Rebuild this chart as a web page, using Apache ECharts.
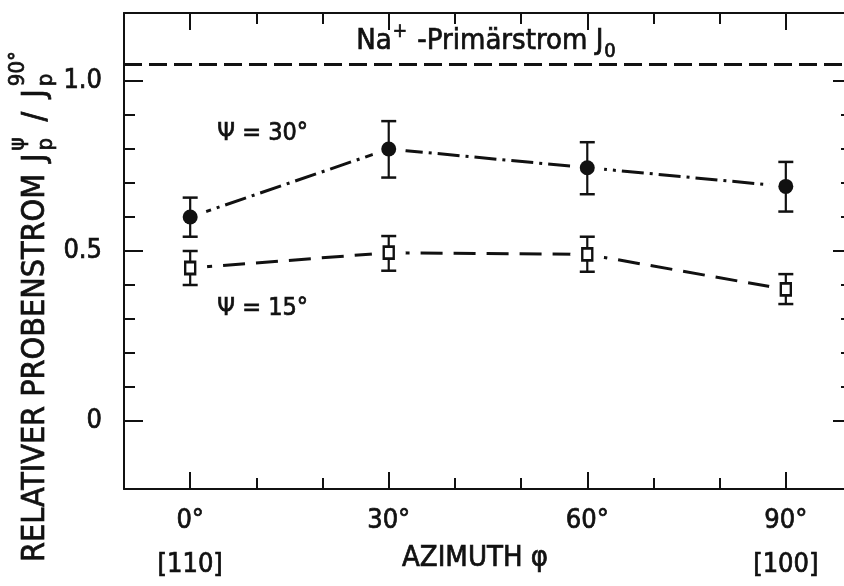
<!DOCTYPE html>
<html><head><meta charset="utf-8">
<script src="https://cdn.jsdelivr.net/npm/echarts@6/dist/echarts.min.js"></script>
<style>html,body{margin:0;padding:0;background:#fff}#c{width:844px;height:586px}</style>
</head><body><div id="c"></div>
<script>
// ---- data ----
const azimuth = [0, 30, 60, 90];
const psi30 = [0.60, 0.80, 0.745, 0.69];
const psi30Hi = [0.657, 0.882, 0.82, 0.762];
const psi30Lo = [0.542, 0.716, 0.667, 0.616];
const psi15 = [0.45, 0.495, 0.49, 0.387];
const psi15Hi = [0.50, 0.544, 0.542, 0.432];
const psi15Lo = [0.40, 0.442, 0.439, 0.344];
const primaryLevel = 1.05;
const xMajorTicks = [0, 30, 60, 90];
const xMinorTicks = [10, 20, 40, 50, 70, 80];
const xTickLabels = ['0°', '30°', '60°', '90°'];
const xDirTicks = [0, 90];
const xDirLabels = ['[110]', '[100]'];
const yMajorTicks = [0, 0.5, 1.0];
const yMinorTicks = [0.1, 0.2, 0.3, 0.4, 0.6, 0.7, 0.8, 0.9];
const yTickLabels = ['0', '0.5', '1.0'];
const annotations = [
  {text: 'Ψ = 30°', x: 4.1, y: 0.845},
  {text: 'Ψ = 15°', x: 4.1, y: 0.332}
];
const primaryLabelPos = {x: 44.7, y: 1.116};

// ---- styling ----
const FONT = "'DejaVu Sans Condensed','Liberation Sans Narrow','DejaVu Sans',sans-serif";
const INK = '#111';
const HEAVY = 0.7;
const X_MIN = -10, X_MAX = 100, Y_MIN = -0.2, Y_MAX = 1.2;

const chart = echarts.init(document.getElementById('c'), null, {renderer: 'canvas'});
const ctx = document.createElement('canvas').getContext('2d');
function measure(t, size) { ctx.font = size + 'px ' + FONT; return ctx.measureText(t).width; }
function txt(t, x, y, size) {
  return {type: 'text', x: x, y: y, style: {text: t, font: size + 'px ' + FONT, fill: INK,
    stroke: INK, lineWidth: HEAVY,
    align: 'left', verticalAlign: 'middle', textAlign: 'left', textVerticalAlign: 'middle'}};
}
function layout(list) {
  let x = 0; const kids = [];
  for (const p of list) {
    if (p.stack) {
      let w = 0;
      p.stack.forEach(s => { kids.push(txt(s.t, x + (p.dx || 0), s.dy, s.size)); w = Math.max(w, measure(s.t, s.size)); });
      x += w + (p.dx || 0);
    } else {
      kids.push(txt(p.t, x + (p.dx || 0), p.dy || 0, p.size));
      x += measure(p.t, p.size) + (p.dx || 0);
    }
  }
  return {kids, width: x};
}

const axisLineStyle = {color: INK, width: 2};
const labelStyle = (size) => ({fontSize: size, fontFamily: FONT, color: INK, textBorderColor: INK, textBorderWidth: HEAVY});
function xAx(extra) {
  return Object.assign({type: 'value', min: X_MIN, max: X_MAX, splitLine: {show: false},
    axisLine: {show: false, onZero: false, lineStyle: axisLineStyle}, axisTick: {show: false}, axisLabel: {show: false}}, extra);
}
function yAx(extra) {
  return Object.assign({type: 'value', min: Y_MIN, max: Y_MAX, splitLine: {show: false},
    axisLine: {show: false, onZero: false, lineStyle: axisLineStyle}, axisTick: {show: false}, axisLabel: {show: false}}, extra);
}
const shownLine = {show: true, onZero: false, lineStyle: axisLineStyle};
const majTick = (vals, len) => ({show: true, inside: true, length: len, customValues: vals, lineStyle: {color: INK, width: 2}});

const pts30 = azimuth.map((x, i) => [x, psi30[i]]);
const pts15 = azimuth.map((x, i) => [x, psi15[i]]);
const errData = azimuth.map((x, i) => [x, psi30Lo[i], psi30Hi[i]]).concat(azimuth.map((x, i) => [x, psi15Lo[i], psi15Hi[i]]));

const option = {
  animation: false,
  backgroundColor: '#fff',
  grid: {left: 124, right: -8, top: 13, bottom: 97, outerBoundsMode: 'none', containLabel: false},
  xAxis: [
    xAx({position: 'bottom', axisLine: shownLine, axisTick: majTick(xMajorTicks, 17),
      axisLabel: Object.assign({show: true, customValues: xMajorTicks, margin: 18,
        formatter: v => xTickLabels[xMajorTicks.indexOf(v)]}, labelStyle(27)),
      name: 'AZIMUTH φ', nameLocation: 'middle', nameGap: 55,
      nameTextStyle: Object.assign({padding: [0, 26, 0, 0]}, labelStyle(29))}),
    xAx({position: 'bottom', axisTick: majTick(xMinorTicks, 11)}),
    xAx({position: 'top', axisLine: shownLine, axisTick: majTick(xMajorTicks, 17)}),
    xAx({position: 'top', axisTick: majTick(xMinorTicks, 11)}),
    xAx({position: 'bottom', axisLabel: Object.assign({show: true, customValues: xDirTicks, margin: 62,
      formatter: v => xDirLabels[xDirTicks.indexOf(v)]}, labelStyle(27))})
  ],
  yAxis: [
    yAx({position: 'left', axisLine: shownLine, axisTick: majTick(yMajorTicks, 19),
      axisLabel: Object.assign({show: true, customValues: yMajorTicks, margin: 22,
        formatter: v => yTickLabels[yMajorTicks.indexOf(v)]}, labelStyle(27))}),
    yAx({position: 'left', axisTick: majTick(yMinorTicks, 11)}),
    yAx({position: 'right', axisLine: shownLine, axisTick: majTick(yMajorTicks, 19)}),
    yAx({position: 'right', axisTick: majTick(yMinorTicks, 11)})
  ],
  series: [
    {type: 'line', name: 'psi30', data: pts30, symbol: 'none', z: 2,
      lineStyle: {color: INK, width: 3, type: [22, 6, 3, 6]},
      markLine: {silent: true, symbol: 'none', label: {show: false},
        lineStyle: {color: INK, width: 3, type: [18, 7]}, data: [{yAxis: primaryLevel}]}},
    {type: 'line', name: 'psi15', data: pts15, symbol: 'none', z: 2,
      lineStyle: {color: INK, width: 3, type: [22, 11]}},
    {type: 'scatter', data: pts30.concat(pts15), symbol: 'circle', symbolSize: 34, z: 3, silent: true,
      itemStyle: {color: '#fff', opacity: 1}},
    {type: 'custom', z: 4, data: errData, silent: true,
      renderItem: function (params, api) {
        const top = api.coord([api.value(0), api.value(2)]);
        const bot = api.coord([api.value(0), api.value(1)]);
        const w = 7.5, st = {stroke: INK, lineWidth: 2.5};
        return {type: 'group', children: [
          {type: 'line', shape: {x1: top[0], y1: top[1], x2: bot[0], y2: bot[1]}, style: {stroke: INK, lineWidth: 2.2}},
          {type: 'line', shape: {x1: top[0] - w, y1: top[1], x2: top[0] + w, y2: top[1]}, style: st},
          {type: 'line', shape: {x1: bot[0] - w, y1: bot[1], x2: bot[0] + w, y2: bot[1]}, style: st}
        ]};
      }},
    {type: 'scatter', data: pts30, symbol: 'circle', symbolSize: 15, z: 5, itemStyle: {color: INK, opacity: 1}},
    {type: 'scatter', data: pts15, symbol: 'rect', symbolSize: [10, 12], z: 5,
      itemStyle: {color: '#fff', borderColor: INK, borderWidth: 2.6, opacity: 1}}
  ]
};
chart.setOption(option);

// ---- text annotations (anchored in data coordinates) ----
const graphics = [];
annotations.forEach(a => {
  const p = chart.convertToPixel({xAxisIndex: 0, yAxisIndex: 0}, [a.x, a.y]);
  graphics.push(txt(a.text, p[0], p[1], 25));
});
// Na+ - Primärstrom J0
const prim = layout([
  {t: 'Na', size: 29}, {t: '+', size: 19, dy: -9, dx: 1}, {t: ' -Primärstrom J', size: 29, dx: 2},
  {t: '0', size: 20, dy: 10, dx: 1}
]);
const pp = chart.convertToPixel({xAxisIndex: 0, yAxisIndex: 0}, [primaryLabelPos.x, primaryLabelPos.y]);
graphics.push({type: 'group', x: pp[0] - prim.width / 2, y: pp[1], children: prim.kids});
// Y axis title (rotated)
const ttl = layout([
  {t: 'RELATIVER PROBENSTROM', size: 32},
  {t: 'J', size: 32, dx: 12},
  {stack: [{t: 'ψ', size: 22, dy: -18}, {t: 'p', size: 22, dy: 10}], dx: 3},
  {t: '/', size: 32, dx: 16},
  {t: 'J', size: 32, dx: 14},
  {stack: [{t: '90°', size: 22, dy: -18}, {t: 'p', size: 22, dy: 10}], dx: 3}
]);
graphics.push({type: 'group', x: 36, y: 562, rotation: Math.PI / 2, children: ttl.kids});
chart.setOption({graphic: graphics});
</script>
</body></html>
